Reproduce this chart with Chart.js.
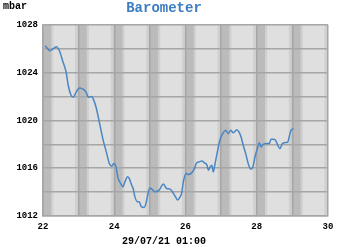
<!DOCTYPE html>
<html>
<head>
<meta charset="utf-8">
<script src="https://cdn.jsdelivr.net/npm/chart.js@4/dist/chart.umd.min.js"></script>
<style>
	body { margin: 0; background: #fff; }
	#wrap { width: 350px; height: 250px; }
</style>
</head>
<body>
<div id="wrap"><canvas id="baroChart" width="350" height="250"></canvas></div>
<script>
// day of month (July 2021) and pressure in mbar
var days = [22.06, 22.20, 22.29, 22.38, 22.46, 22.55, 22.65, 22.71, 22.79, 22.85,
	22.93, 23.02, 23.11, 23.21, 23.27, 23.37, 23.41, 23.49, 23.60, 23.69,
	23.79, 23.86, 23.93, 23.99, 24.05, 24.11, 24.18, 24.24, 24.30, 24.37,
	24.42, 24.49, 24.53, 24.58, 24.65, 24.70, 24.76, 24.84, 24.89, 24.96,
	25.00, 25.08, 25.14, 25.26, 25.38, 25.47, 25.57, 25.66, 25.72, 25.78,
	25.85, 25.89, 25.94, 26.01, 26.08, 26.17, 26.25, 26.31, 26.39, 26.46,
	26.53, 26.60, 26.64, 26.69, 26.74, 26.78, 26.83, 26.89, 26.97, 27.06,
	27.13, 27.20, 27.27, 27.34, 27.44, 27.50, 27.56, 27.62, 27.69, 27.76,
	27.83, 27.89, 27.95, 28.03, 28.07, 28.12, 28.18, 28.28, 28.35, 28.40,
	28.47, 28.53, 28.59, 28.65, 28.72, 28.79, 28.87, 28.91, 28.96, 29.03];
var pressure = [1026.25, 1025.83, 1026.0, 1026.17, 1025.83, 1025.0, 1024.03, 1022.9, 1022.08, 1021.94,
	1022.36, 1022.72, 1022.64, 1022.36, 1021.94, 1022.0, 1021.8, 1021.1, 1019.58, 1018.33,
	1017.22, 1016.39, 1016.17, 1016.39, 1016.1, 1015.14, 1014.72, 1014.44, 1014.86, 1015.28,
	1015.14, 1014.58, 1014.3, 1013.6, 1013.19, 1013.19, 1012.78, 1012.72, 1013.06, 1014.03,
	1014.36, 1014.17, 1014.03, 1014.17, 1014.67, 1014.3, 1014.25, 1013.89, 1013.6, 1013.33,
	1013.6, 1013.89, 1014.86, 1015.56, 1015.47, 1015.61, 1015.97, 1016.44, 1016.53, 1016.61,
	1016.44, 1016.28, 1015.83, 1016.1, 1016.25, 1015.69, 1016.39, 1017.3, 1018.4, 1018.97,
	1019.17, 1018.89, 1019.17, 1018.97, 1019.22, 1019.03, 1018.61, 1017.92, 1017.22, 1016.39,
	1015.92, 1016.1, 1016.94, 1017.78, 1018.14, 1017.78, 1018.0, 1018.06, 1018.06, 1018.42,
	1018.42, 1018.33, 1017.92, 1017.64, 1018.06, 1018.14, 1018.19, 1018.61, 1019.17, 1019.31];
// midnights that get a night band
var nights = [22, 23, 24, 25, 26, 27, 28, 29, 30];
var title = 'Barometer';
var unit = 'mbar';
var stamp = '29/07/21 01:00';

var points = [];
for (var i in days) {
	points.push({x: days[i], y: pressure[i]});
}

var monoFont = 'Liberation Mono, Courier New, monospace';

// plot background + night shading, drawn under the grid
var nightBands = {
	id: 'nightBands',
	beforeDraw: function (chart) {
		var ctx = chart.ctx;
		var area = chart.chartArea;
		var xs = chart.scales.x;
		ctx.save();
		ctx.beginPath();
		ctx.rect(area.left, area.top, area.right - area.left, area.bottom - area.top);
		ctx.clip();
		ctx.fillStyle = '#dfdfdf';
		ctx.fillRect(area.left, area.top, area.right - area.left, area.bottom - area.top);
		nights.forEach(function (d) {
			var a = xs.getPixelForValue(d - 0.1);
			var b = xs.getPixelForValue(d + 0.29);
			ctx.fillStyle = '#d0d0d0';
			ctx.fillRect(a, area.top, b - a, area.bottom - area.top);
			a = xs.getPixelForValue(d - 0.02);
			b = xs.getPixelForValue(d + 0.23);
			ctx.fillStyle = '#bbbbbb';
			ctx.fillRect(a, area.top, b - a, area.bottom - area.top);
		});
		ctx.restore();
	},
	afterDraw: function (chart) {
		var ctx = chart.ctx;
		ctx.save();
		ctx.fillStyle = '#000';
		ctx.font = 'bold 10px ' + monoFont;
		ctx.textAlign = 'left';
		ctx.textBaseline = 'middle';
		ctx.fillText(unit, 3, 6);
		ctx.restore();
	}
};

var ctx = document.getElementById('baroChart');
var baroChart = new Chart(ctx, {
	type: 'line',
	data: {
		datasets: [{
			label: title,
			data: points,
			borderColor: '#4a86c2',
			borderWidth: 1.5,
			pointRadius: 0,
			tension: 0.4,
			cubicInterpolationMode: 'monotone',
			fill: false
		}]
	},
	options: {
		responsive: false,
		animation: false,
		layout: { padding: { left: 0, right: 22, top: 0, bottom: 0 } },
		plugins: {
			legend: { display: false },
			tooltip: { enabled: false },
			title: {
				display: true,
				text: title,
				color: '#3b7dc0',
				font: { family: monoFont, size: 14, weight: 'bold' },
				padding: { top: 0, bottom: 8 }
			},
			subtitle: {
				display: true,
				position: 'bottom',
				text: stamp,
				color: '#000',
				font: { family: monoFont, size: 10, weight: 'bold' },
				padding: { top: 0, bottom: 3 }
			}
		},
		scales: {
			x: {
				type: 'linear',
				min: 22,
				max: 30,
				afterFit: function (s) { s.height = 19; },
				grid: { color: '#a6a6a6', lineWidth: 1.5, drawTicks: false },
				border: { color: '#a6a6a6', width: 1.5 },
				ticks: {
					stepSize: 1,
					padding: 5,
					color: '#000',
					maxRotation: 0,
					autoSkip: false,
					font: { family: monoFont, size: 9, weight: 'bold' },
					callback: function (v) { return v % 2 === 0 ? v : ''; }
				}
			},
			y: {
				min: 1012,
				max: 1028,
				afterFit: function (s) { s.width = 43; },
				grid: { color: '#a6a6a6', lineWidth: 1.5, drawTicks: false },
				border: { color: '#a6a6a6', width: 1.5 },
				ticks: {
					stepSize: 2,
					padding: 5,
					color: '#000',
					autoSkip: false,
					font: { family: monoFont, size: 9, weight: 'bold' },
					callback: function (v) { return v % 4 === 0 ? v : ''; }
				}
			}
		}
	},
	plugins: [nightBands]
});
</script>
</body>
</html>
